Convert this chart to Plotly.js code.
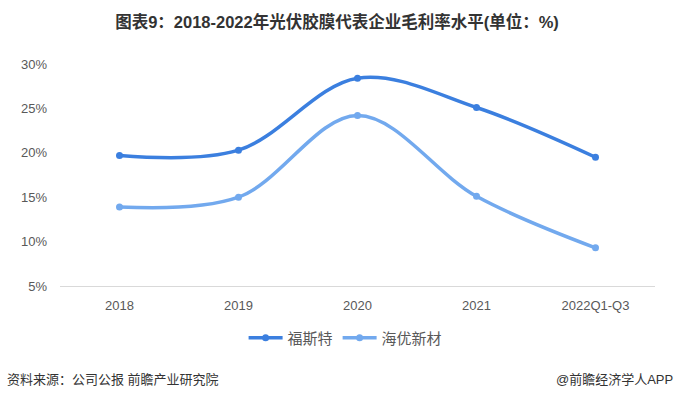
<!DOCTYPE html>
<html>
<head>
<meta charset="utf-8">
<script src="https://cdn.plot.ly/plotly-3.0.1.min.js"></script>
<style>
html,body{margin:0;padding:0;background:#fff;}
#chart{width:674px;height:397px;}
</style>
</head>
<body>
<div id="chart"></div>
<script>
const categories = ["2018", "2019", "2020", "2021", "2022Q1-Q3"];
const fosterValues = [19.7, 20.3, 28.4, 25.1, 19.5];
const haiyouValues = [13.9, 15.0, 24.2, 15.1, 9.3];
const yTickValues = [5, 10, 15, 20, 25, 30];
const yTickLabels = ["5%", "10%", "15%", "20%", "25%", "30%"];

const fontFamily = '"Liberation Sans", Arial, "Noto Sans CJK SC", sans-serif';

const traces = [
  {
    x: categories, y: fosterValues, name: "福斯特",
    type: "scatter", mode: "lines+markers",
    line: {color: "#3b7fdf", width: 3.5, shape: "spline", smoothing: 1},
    marker: {color: "#3b7fdf", size: 7}
  },
  {
    x: categories, y: haiyouValues, name: "海优新材",
    type: "scatter", mode: "lines+markers",
    line: {color: "#72a9ee", width: 3.5, shape: "spline", smoothing: 1},
    marker: {color: "#72a9ee", size: 7}
  }
];

const layout = {
  width: 674, height: 397,
  paper_bgcolor: "#fff", plot_bgcolor: "#fff",
  margin: {l: 60, r: 19, t: 64, b: 111},
  font: {family: fontFamily, color: "#595959", size: 13},
  title: {
    text: "<b>图表9：2018-2022年光伏胶膜代表企业毛利率水平(单位：%)</b>",
    x: 0.5, xanchor: "center", y: 0.945, yanchor: "middle", yref: "container",
    font: {family: fontFamily, size: 16.5, color: "#333"}
  },
  xaxis: {
    type: "category", range: [-0.5, 4.5],
    showgrid: false, zeroline: false,
    showline: true, linecolor: "#d9d9d9", linewidth: 1,
    ticks: "", ticklen: 0, ticklabelstandoff: 7,
    tickfont: {size: 13, color: "#595959"}
  },
  yaxis: {
    range: [5, 30], tickvals: yTickValues, ticktext: yTickLabels,
    showgrid: false, zeroline: false, showline: false,
    ticks: "", ticklabelstandoff: 12,
    tickfont: {size: 13, color: "#595959"}
  },
  showlegend: true,
  legend: {
    orientation: "h", x: 0.48, xanchor: "center", y: -0.234, yanchor: "middle",
    font: {size: 15, color: "#595959"},
    itemwidth: 34, tracegroupgap: 0
  },
  annotations: [
    {
      text: "资料来源：公司公报 前瞻产业研究院", xref: "paper", yref: "paper",
      x: -0.093, xanchor: "left", y: -0.419, yanchor: "middle", showarrow: false,
      font: {size: 13, color: "#333"}
    },
    {
      text: "@前瞻经济学人APP", xref: "paper", yref: "paper",
      x: 1.033, xanchor: "right", y: -0.419, yanchor: "middle", showarrow: false,
      font: {size: 13, color: "#333"}
    }
  ]
};

Plotly.newPlot("chart", traces, layout, {displayModeBar: false, staticPlot: true});
</script>
</body>
</html>
